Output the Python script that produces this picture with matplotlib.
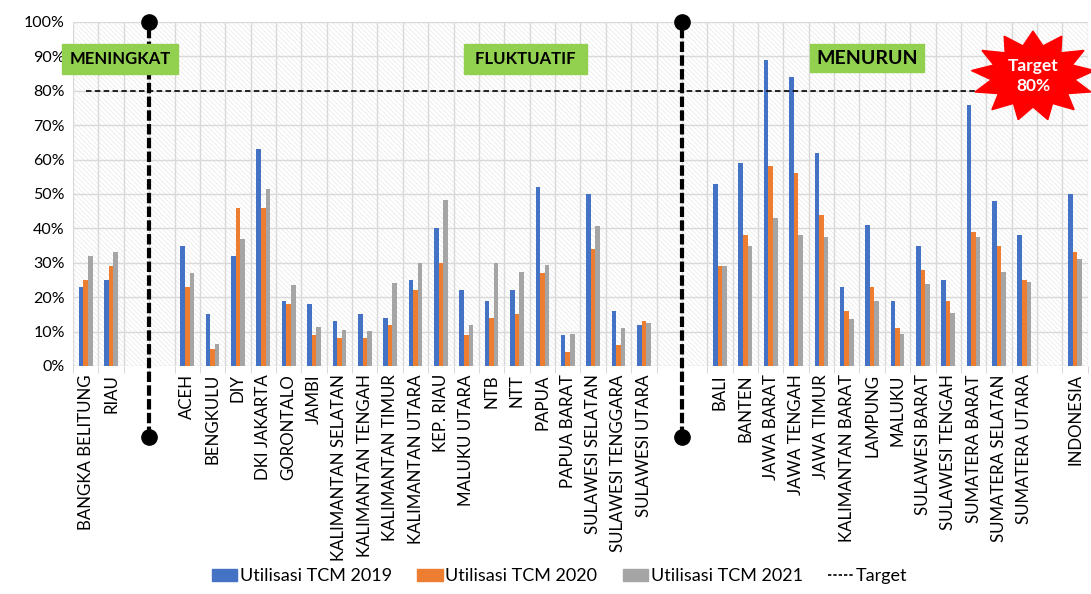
import numpy as np
import matplotlib
matplotlib.use("Agg")
import matplotlib.pyplot as plt
from matplotlib.patches import Patch, Rectangle, Polygon
from matplotlib.lines import Line2D

plt.rcParams['font.family'] = ['Lato', 'DejaVu Sans']
plt.rcParams['hatch.linewidth'] = 0.5

# kategori ('' = slot kosong)
provinsi = ['BANGKA BELITUNG', 'RIAU', '', '',
            'ACEH', 'BENGKULU', 'DIY', 'DKI JAKARTA', 'GORONTALO', 'JAMBI',
            'KALIMANTAN SELATAN', 'KALIMANTAN TENGAH', 'KALIMANTAN TIMUR',
            'KALIMANTAN UTARA', 'KEP. RIAU', 'MALUKU UTARA', 'NTB', 'NTT',
            'PAPUA', 'PAPUA BARAT', 'SULAWESI SELATAN', 'SULAWESI TENGGARA',
            'SULAWESI UTARA', '', '',
            'BALI', 'BANTEN', 'JAWA BARAT', 'JAWA TENGAH', 'JAWA TIMUR',
            'KALIMANTAN BARAT', 'LAMPUNG', 'MALUKU', 'SULAWESI BARAT',
            'SULAWESI TENGAH', 'SUMATERA BARAT', 'SUMATERA SELATAN',
            'SUMATERA UTARA', '', 'INDONESIA']

nan = np.nan
tcm2019 = [23, 25, nan, nan,
           35, 15, 32, 63, 19, 18, 13, 15, 14, 25, 40, 22, 19, 22, 52, 9, 50, 16, 12,
           nan, nan,
           53, 59, 89, 84, 62, 23, 41, 19, 35, 25, 76, 48, 38,
           nan, 50]
tcm2020 = [25, 29, nan, nan,
           23, 5, 46, 46, 18, 9, 8, 8, 12, 22, 30, 9, 14, 15, 27, 4, 34, 6, 13,
           nan, nan,
           29, 38, 58, 56, 44, 16, 23, 11, 28, 19, 39, 35, 25,
           nan, 33]
tcm2021 = [32, 33, nan, nan,
           27, 6.5, 37, 51.5, 23.5, 11.3, 10.4, 10.2, 24, 30, 48.3, 12, 30, 27.2, 29.3, 9.2, 40.7, 11, 12.6,
           nan, nan,
           29, 35, 43, 38, 37.5, 13.5, 19, 9.2, 23.7, 15.3, 37.5, 27.2, 24.5,
           nan, 31]
target = 80

kelompok = ['MENINGKAT', 'FLUKTUATIF', 'MENURUN']
batas = [2.5, 23.5]

biru = '#4472c4'
oranye = '#ed7d31'
abu = '#a5a5a5'
hijau = '#92d050'

fig = plt.figure(figsize=(10.91, 5.94), dpi=100)
ax = fig.add_axes([0.067, 0.384, 0.93, 0.579])

x = np.arange(len(provinsi))
w = 0.18

# latar arsir
bg = Rectangle((0, 0), 1, 1, transform=ax.transAxes, facecolor='white',
               edgecolor='#e8e8e8', hatch='\\' * 7, linewidth=0, zorder=0)
ax.add_patch(bg)

ax.bar(x - w, tcm2019, w, color=biru, zorder=3)
ax.bar(x, tcm2020, w, color=oranye, zorder=3)
ax.bar(x + w, tcm2021, w, color=abu, zorder=3)

ax.plot([x[0], x[-1]], [target, target], color='black', lw=1.2,
        dashes=(3.3, 2), zorder=4)

ax.set_xlim(-0.5, len(provinsi) - 0.5)
ax.set_ylim(0, 100)
ax.set_yticks(np.arange(0, 101, 10))
ax.set_yticklabels([f'{v}%' for v in range(0, 101, 10)], fontsize=11.5)
ax.set_xticks(x)
ax.set_xticklabels(provinsi, rotation=90, fontsize=12.2)
ax.set_xticks(np.arange(-0.5, len(provinsi), 1), minor=True)
ax.tick_params(axis='x', which='major', length=0, pad=6)
ax.tick_params(axis='x', which='minor', length=5, color='#d0d0d0')
ax.tick_params(axis='y', length=0, pad=6)
ax.grid(axis='y', color='#d9d9d9', lw=1, zorder=1)
ax.grid(axis='x', which='minor', color='#d9d9d9', lw=1, zorder=1)
for s in ax.spines.values():
    s.set_visible(False)

# garis pemisah kelompok
for b in batas:
    ax.plot([b, b], [-20.6, 100], color='black', lw=3, dashes=(2.5, 0.8),
            clip_on=False, zorder=5, solid_capstyle='butt')
    ax.plot([b, b], [-20.6, 100], ls='none', marker='o', ms=11,
            color='black', clip_on=False, zorder=6)

# label kelompok
ax.text(1.35, 89.2, kelompok[0], ha='center', va='center', fontsize=12,
        fontweight='bold', zorder=7,
        bbox=dict(boxstyle='square,pad=0.42', fc=hijau, ec=hijau))
ax.text(17.33, 89.2, ' ' + kelompok[1] + ' ', ha='center', va='center', fontsize=12,
        fontweight='bold', zorder=7,
        bbox=dict(boxstyle='square,pad=0.42', fc=hijau, ec=hijau))
ax.text(30.8, 89.5, kelompok[2], ha='center', va='center', fontsize=14,
        fontweight='bold', zorder=7,
        bbox=dict(boxstyle='square,pad=0.3', fc=hijau, ec=hijau))

# bintang target
W, H = 1091, 594
cx, cy = 1033, 76
n = 13
ang = np.linspace(0, 2 * np.pi, 2 * n, endpoint=False) + np.pi / 2
rx = np.where(np.arange(2 * n) % 2 == 0, 62, 42)
ry = np.where(np.arange(2 * n) % 2 == 0, 45, 31)
px = (cx + rx * np.cos(ang)) / W
py = 1 - (cy - ry * np.sin(ang)) / H
star = Polygon(np.column_stack([px, py]), closed=True, transform=fig.transFigure,
               facecolor='#ff0000', edgecolor='#ff0000', zorder=8)
fig.patches.append(star)
fig.text(cx / W, 1 - 76 / H, 'Target\n80%', ha='center', va='center',
         color='white', fontsize=12.5, fontweight='bold', linespacing=1.35,
         zorder=9)

handles = [Patch(color=biru), Patch(color=oranye), Patch(color=abu),
           Line2D([], [], color='black', lw=1.2, dashes=(2, 1.2))]
labels = ['Utilisasi TCM 2019', 'Utilisasi TCM 2020', 'Utilisasi TCM 2021', 'Target']
fig.legend(handles, labels, loc='center', bbox_to_anchor=(0.513, 0.03),
           ncol=4, frameon=False, fontsize=13, handlelength=1.4,
           handleheight=0.6, handletextpad=0.15, columnspacing=1.4)

fig.savefig('out.png', dpi=100)
